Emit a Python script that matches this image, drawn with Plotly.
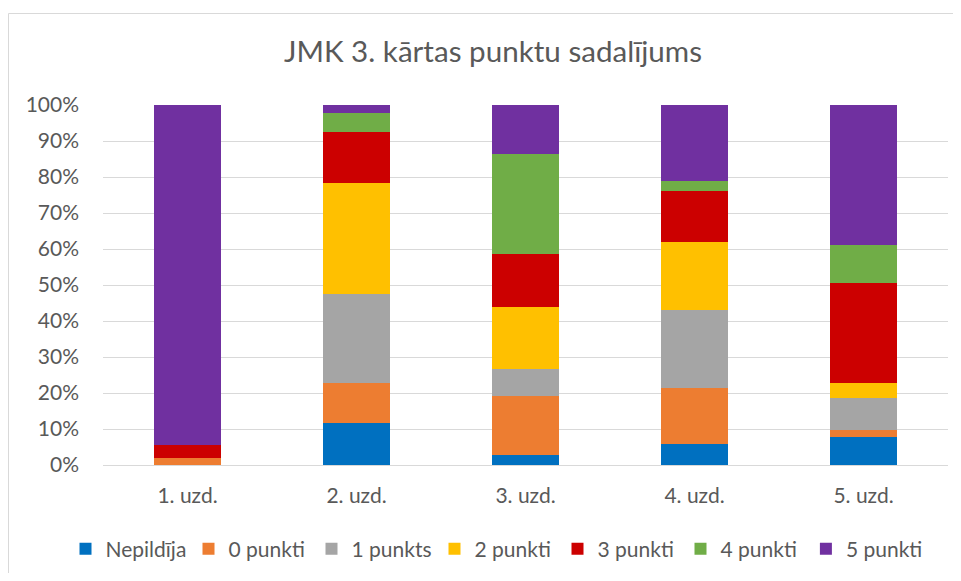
import plotly.graph_objects as go

categories = ["1. uzd.", "2. uzd.", "3. uzd.", "4. uzd.", "5. uzd."]
series_names = ["Nepildīja", "0 punkti", "1 punkts", "2 punkti", "3 punkti", "4 punkti", "5 punkti"]
nepildija = [0.0, 11.6, 2.8, 5.7, 7.9]
punkti_0 = [2.0, 11.1, 16.4, 15.6, 1.7]
punkti_1 = [0.0, 24.9, 7.5, 21.7, 9.0]
punkti_2 = [0.0, 30.8, 17.1, 19.0, 4.1]
punkti_3 = [3.5, 14.2, 14.9, 14.2, 27.9]
punkti_4 = [0.0, 5.3, 27.8, 2.8, 10.6]
punkti_5 = [94.5, 2.1, 13.5, 21.0, 38.8]
y_ticks = [0, 10, 20, 30, 40, 50, 60, 70, 80, 90, 100]
y_tick_labels = ["0%", "10%", "20%", "30%", "40%", "50%", "60%", "70%", "80%", "90%", "100%"]

series_values = [nepildija, punkti_0, punkti_1, punkti_2, punkti_3, punkti_4, punkti_5]
colors = ["#0070C0", "#ED7D31", "#A5A5A5", "#FFC000", "#CC0000", "#70AD47", "#7030A0"]

FONT = "Lato"
TXT = "#595959"

fig = go.Figure()
for i, (name, vals, col) in enumerate(zip(series_names, series_values, colors)):
    fig.add_trace(go.Bar(name=name, x=categories, y=vals, marker=dict(color=col, line=dict(width=0)),
                         width=0.4, legend="legend2" if i == len(series_names) - 1 else "legend"))

# page has an 8px body margin; figure coordinates = page coordinates - 8
OFF = 8
W, H = 961 - 2 * OFF, 581 - 2 * OFF
L = 103 - OFF
R = W - (948 - OFF)
T = 105 - OFF
B = H - (465 - OFF)
pw = W - L - R
ph = H - T - B

def px2x(px):
    return (px - OFF - L) / pw

def py2y(py):
    return (H - B - (py - OFF)) / ph

leg_common = dict(orientation="h", xref="container", xanchor="left",
                  y=1 - (549 - OFF) / H, yref="container", yanchor="middle",
                  font=dict(size=21, color=TXT), traceorder="normal",
                  itemwidth=30, entrywidth=78, entrywidthmode="pixels",
                  bgcolor="rgba(0,0,0,0)")

fig.update_layout(
    width=W, height=H,
    margin=dict(l=L, r=R, t=T, b=B, autoexpand=False),
    barmode="stack",
    paper_bgcolor="white", plot_bgcolor="white",
    font=dict(family=FONT, color=TXT),
    title=dict(text="JMK 3. kārtas punktu sadalījums", font=dict(family=FONT, size=29.6, color=TXT),
               x=(493 - OFF) / W, xanchor="center", xref="container",
               y=1 - (52 - OFF) / H, yanchor="middle", yref="container"),
    xaxis=dict(showgrid=False, showline=True, linecolor="#D9D9D9", linewidth=1,
               ticks="", tickfont=dict(size=21, color=TXT), ticklabelstandoff=12),
    yaxis=dict(range=[0, 100], tickvals=y_ticks, ticktext=y_tick_labels, showgrid=True,
               gridcolor="#D9D9D9", gridwidth=1, zeroline=False, showline=False,
               ticks="", tickfont=dict(size=21, color=TXT), ticklabelstandoff=23),
    legend=dict(x=(65.5 - OFF) / W, **leg_common),
    legend2=dict(x=(65.5 + 6 * 123.4 - OFF) / W, **leg_common),
    bargap=0.6,
    shapes=[dict(type="rect", xref="paper", yref="paper",
                 x0=px2x(8.5), x1=px2x(990), y0=py2y(600), y1=py2y(13.5),
                 line=dict(color="#D9D9D9", width=1), fillcolor="rgba(0,0,0,0)", layer="below")],
)

fig.write_html("out.html")
